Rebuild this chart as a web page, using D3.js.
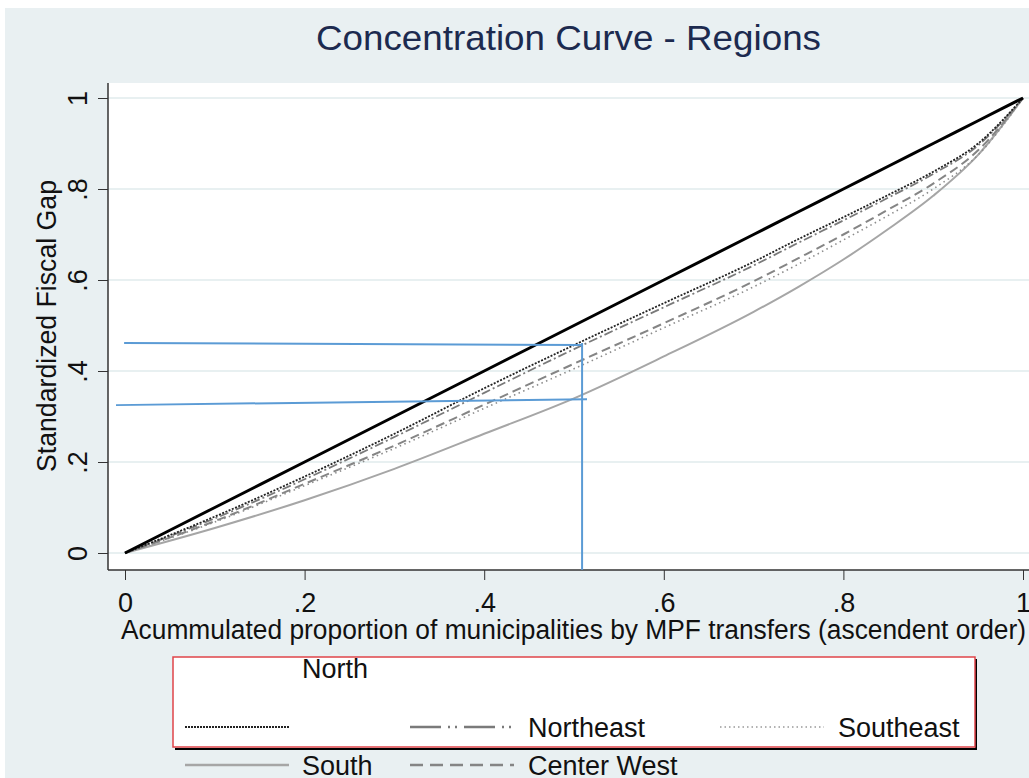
<!DOCTYPE html>
<html>
<head>
<meta charset="utf-8">
<script src="https://cdn.jsdelivr.net/npm/d3@7"></script>
<style>
  body { margin: 0; background: #fff; }
  text { font-family: "Liberation Sans", Arial, sans-serif; }
</style>
</head>
<body>
<svg id="chart" width="1029" height="778"></svg>
<script>
// cumulative share of municipalities (x) and fiscal gap (y) per region
var xs        = [0, 0.1, 0.2, 0.3, 0.4, 0.5, 0.6, 0.7, 0.75, 0.8, 0.85, 0.9, 0.95, 1];
var equality  = [0, 0.1, 0.2, 0.3, 0.4, 0.5, 0.6, 0.7, 0.75, 0.8, 0.85, 0.9, 0.95, 1];
var north     = [0, 0.080, 0.168, 0.262, 0.362, 0.457, 0.549, 0.640, 0.690, 0.738, 0.787, 0.838, 0.900, 1];
var northeast = [0, 0.076, 0.162, 0.255, 0.352, 0.448, 0.540, 0.632, 0.682, 0.731, 0.781, 0.833, 0.896, 1];
var centerW   = [0, 0.070, 0.152, 0.236, 0.326, 0.416, 0.505, 0.597, 0.648, 0.700, 0.755, 0.812, 0.885, 1];
var southeast = [0, 0.068, 0.148, 0.230, 0.318, 0.405, 0.495, 0.585, 0.635, 0.688, 0.742, 0.800, 0.875, 1];
var south     = [0, 0.055, 0.116, 0.185, 0.262, 0.340, 0.432, 0.530, 0.585, 0.645, 0.712, 0.785, 0.875, 1];

var xTicks = [0, 0.2, 0.4, 0.6, 0.8, 1];
var yTicks = [0, 0.2, 0.4, 0.6, 0.8, 1];

// hand drawn blue guides, in data units
var guideUpper = [[-0.001, 0.4615], [0.510, 0.457]];
var guideLower = [[-0.010, 0.325], [0.5145, 0.338]];
var guideVert  = [[0.509, 0.4615], [0.509, -0.037]];

var svg = d3.select('#chart');

var x = d3.scaleLinear().domain([0, 1]).range([125, 1023]);
var y = d3.scaleLinear().domain([0, 1]).range([553, 98]);

function fmt(d) {
  if (d === 0) return '0';
  if (d === 1) return '1';
  return String(d).replace('0.', '.');
}

// background
svg.append('rect').attr('x', 5).attr('y', 8).attr('width', 1024).attr('height', 770).attr('fill', '#e9f0f2');
// plot area
svg.append('rect').attr('x', 108).attr('y', 83).attr('width', 921).attr('height', 487).attr('fill', '#ffffff');

// title
svg.append('text')
  .attr('x', 316).attr('y', 50)
  .attr('textLength', 505).attr('lengthAdjust', 'spacingAndGlyphs')
  .style('font-size', '35px')
  .attr('fill', '#1c2a4f')
  .text('Concentration Curve - Regions');

// grid
svg.append('g').selectAll('line')
  .data(yTicks)
  .enter()
  .append('line')
  .attr('x1', 108).attr('x2', 1029)
  .attr('y1', function(d){ return y(d) }).attr('y2', function(d){ return y(d) })
  .attr('stroke', '#e8f0f1').attr('stroke-width', 2);

// y axis
var yAxis = svg.append('g').attr('transform', 'translate(108,0)')
  .call(d3.axisLeft(y).tickValues(yTicks).tickFormat(fmt).tickSizeInner(10).tickSizeOuter(0));
yAxis.select('.domain').remove();
yAxis.selectAll('.tick line').attr('stroke', '#333');
yAxis.selectAll('.tick text')
  .attr('x', null).attr('dy', null)
  .attr('transform', 'translate(-21,0) rotate(-90)')
  .attr('text-anchor', 'middle')
  .attr('fill', '#111')
  .style('font-size', '27px');

// x axis
var xAxis = svg.append('g').attr('transform', 'translate(0,570)')
  .call(d3.axisBottom(x).tickValues(xTicks).tickFormat(fmt).tickSizeInner(10).tickSizeOuter(0));
xAxis.select('.domain').remove();
xAxis.selectAll('.tick line').attr('stroke', '#333');
xAxis.selectAll('.tick text')
  .attr('y', 42).attr('dy', null)
  .attr('fill', '#111')
  .style('font-size', '27px');

// frame
svg.append('line').attr('x1', 108).attr('x2', 108).attr('y1', 83).attr('y2', 570).attr('stroke', '#333').attr('stroke-width', 1.5);
svg.append('line').attr('x1', 108).attr('x2', 1029).attr('y1', 570).attr('y2', 570).attr('stroke', '#333').attr('stroke-width', 1.5);

// axis titles
svg.append('text')
  .attr('transform', 'translate(56,472) rotate(-90)')
  .attr('textLength', 292).attr('lengthAdjust', 'spacingAndGlyphs')
  .style('font-size', '27px')
  .attr('fill', '#111')
  .text('Standardized Fiscal Gap');

svg.append('text')
  .attr('x', 121).attr('y', 639)
  .attr('textLength', 905).attr('lengthAdjust', 'spacingAndGlyphs')
  .style('font-size', '27px')
  .attr('fill', '#111')
  .text('Acummulated proportion of municipalities by MPF transfers (ascendent order)');

// curves
var series = [
  { name: 'South',       vals: south,     color: '#a6a6a6', width: 2,   dash: null },
  { name: 'Southeast',   vals: southeast, color: '#8c8c8c', width: 1.6, dash: '1.5,3.5' },
  { name: 'Center West', vals: centerW,   color: '#858585', width: 2,   dash: '9,5' },
  { name: 'Northeast',   vals: northeast, color: '#7a7a7a', width: 1.8, dash: '9,3,2,3' },
  { name: 'North',       vals: north,     color: '#222',    width: 1.8, dash: '2,1.5' },
  { name: 'Equality',    vals: equality,  color: '#000',    width: 3,   dash: null }
];

var line = d3.line()
  .x(function(d){ return x(d[0]) })
  .y(function(d){ return y(d[1]) })
  .curve(d3.curveMonotoneX);

svg.append('g').selectAll('path')
  .data(series)
  .enter()
  .append('path')
  .attr('d', function(s){ return line(xs.map(function(v, i){ return [v, s.vals[i]] })) })
  .attr('fill', 'none')
  .attr('stroke', function(s){ return s.color })
  .attr('stroke-width', function(s){ return s.width })
  .attr('stroke-dasharray', function(s){ return s.dash });

// blue guides
var guide = d3.line().x(function(d){ return x(d[0]) }).y(function(d){ return y(d[1]) });
svg.append('g').selectAll('path')
  .data([guideUpper, guideLower, guideVert])
  .enter()
  .append('path')
  .attr('d', guide)
  .attr('fill', 'none')
  .attr('stroke', '#5b9bd5')
  .attr('stroke-width', 2);

// legend box
svg.append('line').attr('x1', 175).attr('x2', 977).attr('y1', 749).attr('y2', 749).attr('stroke', '#000').attr('stroke-width', 2);
svg.append('line').attr('x1', 976).attr('x2', 976).attr('y1', 659).attr('y2', 749).attr('stroke', '#000').attr('stroke-width', 2);
svg.append('rect').attr('x', 173).attr('y', 657).attr('width', 802).attr('height', 90)
  .attr('fill', '#fff').attr('stroke', '#e0444a').attr('stroke-width', 1.5);

// legend keys (layout as in the original, labels shifted)
var legendKeys = [
  { x1: 185, y: 727, color: '#222',    width: 2,   dash: '2,1' },
  { x1: 410, y: 727, color: '#7a7a7a', width: 2.5, dash: '31,7,2,5,2,7' },
  { x1: 720, y: 727, color: '#999',    width: 1.5, dash: '1.5,3' },
  { x1: 185, y: 765, color: '#a6a6a6', width: 2.5, dash: null },
  { x1: 410, y: 765, color: '#858585', width: 2.5, dash: '13,7' }
];
svg.append('g').selectAll('line')
  .data(legendKeys)
  .enter()
  .append('line')
  .attr('x1', function(d){ return d.x1 }).attr('x2', function(d){ return d.x1 + 104 })
  .attr('y1', function(d){ return d.y }).attr('y2', function(d){ return d.y })
  .attr('stroke', function(d){ return d.color })
  .attr('stroke-width', function(d){ return d.width })
  .attr('stroke-dasharray', function(d){ return d.dash });

var legendLabels = [
  { x: 302, y: 678, text: 'North' },
  { x: 528, y: 737, text: 'Northeast' },
  { x: 838, y: 737, text: 'Southeast' },
  { x: 302, y: 775, text: 'South' },
  { x: 528, y: 775, text: 'Center West' }
];
svg.append('g').selectAll('text')
  .data(legendLabels)
  .enter()
  .append('text')
  .attr('x', function(d){ return d.x }).attr('y', function(d){ return d.y })
  .style('font-size', '27px')
  .attr('fill', '#111')
  .text(function(d){ return d.text });
</script>
</body>
</html>
